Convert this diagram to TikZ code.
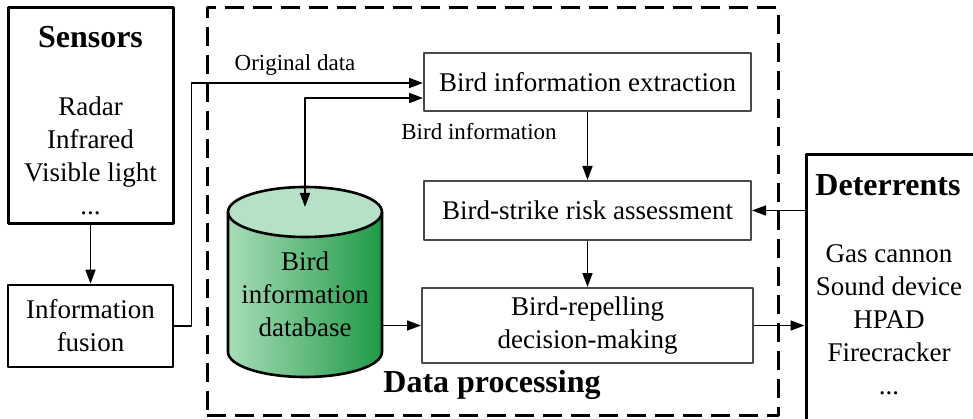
\documentclass[tikz,border=0pt]{standalone}
\usepackage{fontspec}
\setmainfont{Liberation Serif}
\usetikzlibrary{arrows.meta}
\definecolor{dblight}{HTML}{A9DCB9}
\definecolor{dbdark}{HTML}{1F9A47}
\definecolor{dbtop}{HTML}{B6E1C6}
\definecolor{edge}{HTML}{4A4A4A}
\begin{document}
\begin{tikzpicture}[x=1pt, y=1pt, line join=round, >={Triangle[length=14pt,width=10pt]}]
	\tikzset{box/.style={draw=black,line width=3pt,inner sep=0pt},
		pbox/.style={draw=edge,line width=2pt,minimum width=327pt,minimum height=58pt,align=center,font=\fontsize{27}{33}\selectfont},
		ttl/.style={font=\fontsize{32}{36}\selectfont\bfseries},
		lst/.style={align=center,font=\fontsize{27}{33}\selectfont},
		lbl/.style={font=\fontsize{23}{26}\selectfont},
		arr/.style={line width=1.6pt,->}}
	\useasboundingbox(0,0)rectangle(973,418);
	\clip(0,0)rectangle(973,418);
	% sources
	\path(90.5,302.5)node[box,minimum width=165pt,minimum height=215pt](sen){}
		(90.5,381)node[ttl](senT){Sensors}
		(90.5,262)node[lst](senL){Radar\\Infrared\\Visible light\\...};
	\path(90.5,92)node[box,line width=2.6pt,minimum width=165pt,minimum height=82pt,lst](fus){Information\\fusion};
	% data processing
	\path(492.5,206.5)node[draw,line width=3pt,dash pattern=on 19pt off 9pt,minimum width=571pt,minimum height=407pt](proc){}
		(492,33)node[ttl](procT){Data processing};
	\path(587.5,336)node[pbox](ext){Bird information extraction}
		(587.5,207.5)node[pbox,minimum height=59pt](risk){Bird-strike risk assessment}
		(587.5,92.5)node[pbox,minimum width=331pt,minimum height=75pt](dec){Bird-repelling\\decision-making};
	% database
	\fill[left color=dblight,right color=dbdark](228,206)--(228,66)arc[start angle=180,end angle=360,x radius=77,y radius=25]--(382,206)--cycle;
	\filldraw[fill=dbtop,line width=2.6pt](305,206)ellipse[x radius=77,y radius=25];
	\draw[line width=2.6pt](228,206)--(228,66)arc[start angle=180,end angle=360,x radius=77,y radius=25]--(382,206);
	\path(305,124)node[lst,minimum width=154pt,inner sep=0pt](db){Bird\\information\\database};
	\coordinate(dbTop)at(305,211);
	% deterrents
	\path(898,121.5)node[box,minimum width=184pt,minimum height=283pt](det){}
		(888,233)node[ttl](detT){Deterrents}
		(889,98)node[lst](detL){Gas cannon\\Sound device\\HPAD\\Firecracker\\...};
	% connectors
	\foreach \x/\y in {sen/fus,ext/risk,risk/dec}
	\draw[arr](\x)--(\y);
	\draw[arr](fus.east)--++(17,0)|-([yshift=-1pt]ext.west);
	\draw[arr,<->](dbTop)|-([yshift=-16pt]ext.west);
	\draw[arr](det.west|-risk)--(risk.east);
	\draw[arr](dec.east)--(dec.east-|det.west);
	\draw[arr](db.east|-dec)--(dec.west);
	\path(295,353)node[lbl](orig){Original data}
		(479,286)node[lbl](binfo){Bird information};
\end{tikzpicture}
\end{document}
